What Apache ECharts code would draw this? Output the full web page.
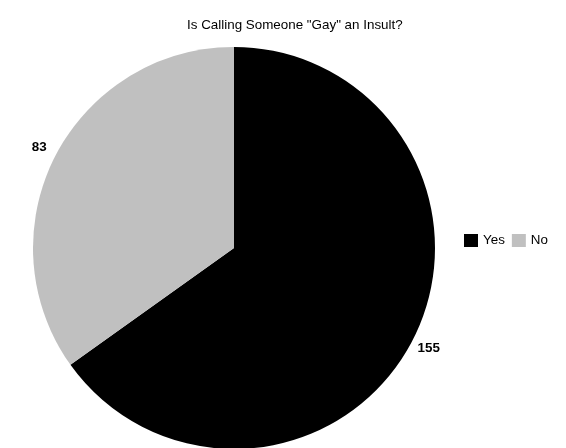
<!DOCTYPE html>
<html>
<head>
<meta charset="utf-8">
<script src="https://cdn.jsdelivr.net/npm/echarts@6/dist/echarts.min.js"></script>
<style>
html,body{margin:0;padding:0;background:#fff;}
#chart{width:566px;height:448px;}
</style>
</head>
<body>
<div id="chart"></div>
<script>
const categories = ["Yes", "No"];
const values = [155, 83];
const colors = ["#000000", "#c0c0c0"];
const titleText = 'Is Calling Someone "Gay" an Insult?';

const FONT = 'Liberation Sans, Arial, sans-serif';
const chart = echarts.init(document.getElementById('chart'), null, {renderer: 'canvas'});
chart.setOption({
  animation: false,
  backgroundColor: '#ffffff',
  color: colors,
  title: {
    text: titleText,
    left: 187,
    top: 19,
    padding: 0,
    textStyle: {fontFamily: FONT, fontSize: 13.4, fontWeight: 'normal', color: '#000'}
  },
  legend: {
    data: categories,
    orient: 'horizontal',
    left: 464,
    top: 234,
    padding: 0,
    itemWidth: 14,
    itemHeight: 13,
    itemGap: 7,
    icon: 'rect',
    textStyle: {fontFamily: FONT, fontSize: 13.4, color: '#000'}
  },
  series: [{
    type: 'pie',
    center: [234, 248],
    radius: [0, 201],
    startAngle: 90,
    clockwise: true,
    silent: true,
    data: categories.map((c, i) => ({name: c, value: values[i]})),
    itemStyle: {borderWidth: 0},
    label: {
      show: true,
      position: 'outside',
      formatter: '{c}',
      fontFamily: FONT,
      fontSize: 13.4,
      fontWeight: 'bold',
      color: '#000',
      distanceToLabelLine: 0
    },
    labelLine: {show: false, length: 18, length2: 0},
    labelLayout: {align: 'center'}
  }]
});
</script>
</body>
</html>
